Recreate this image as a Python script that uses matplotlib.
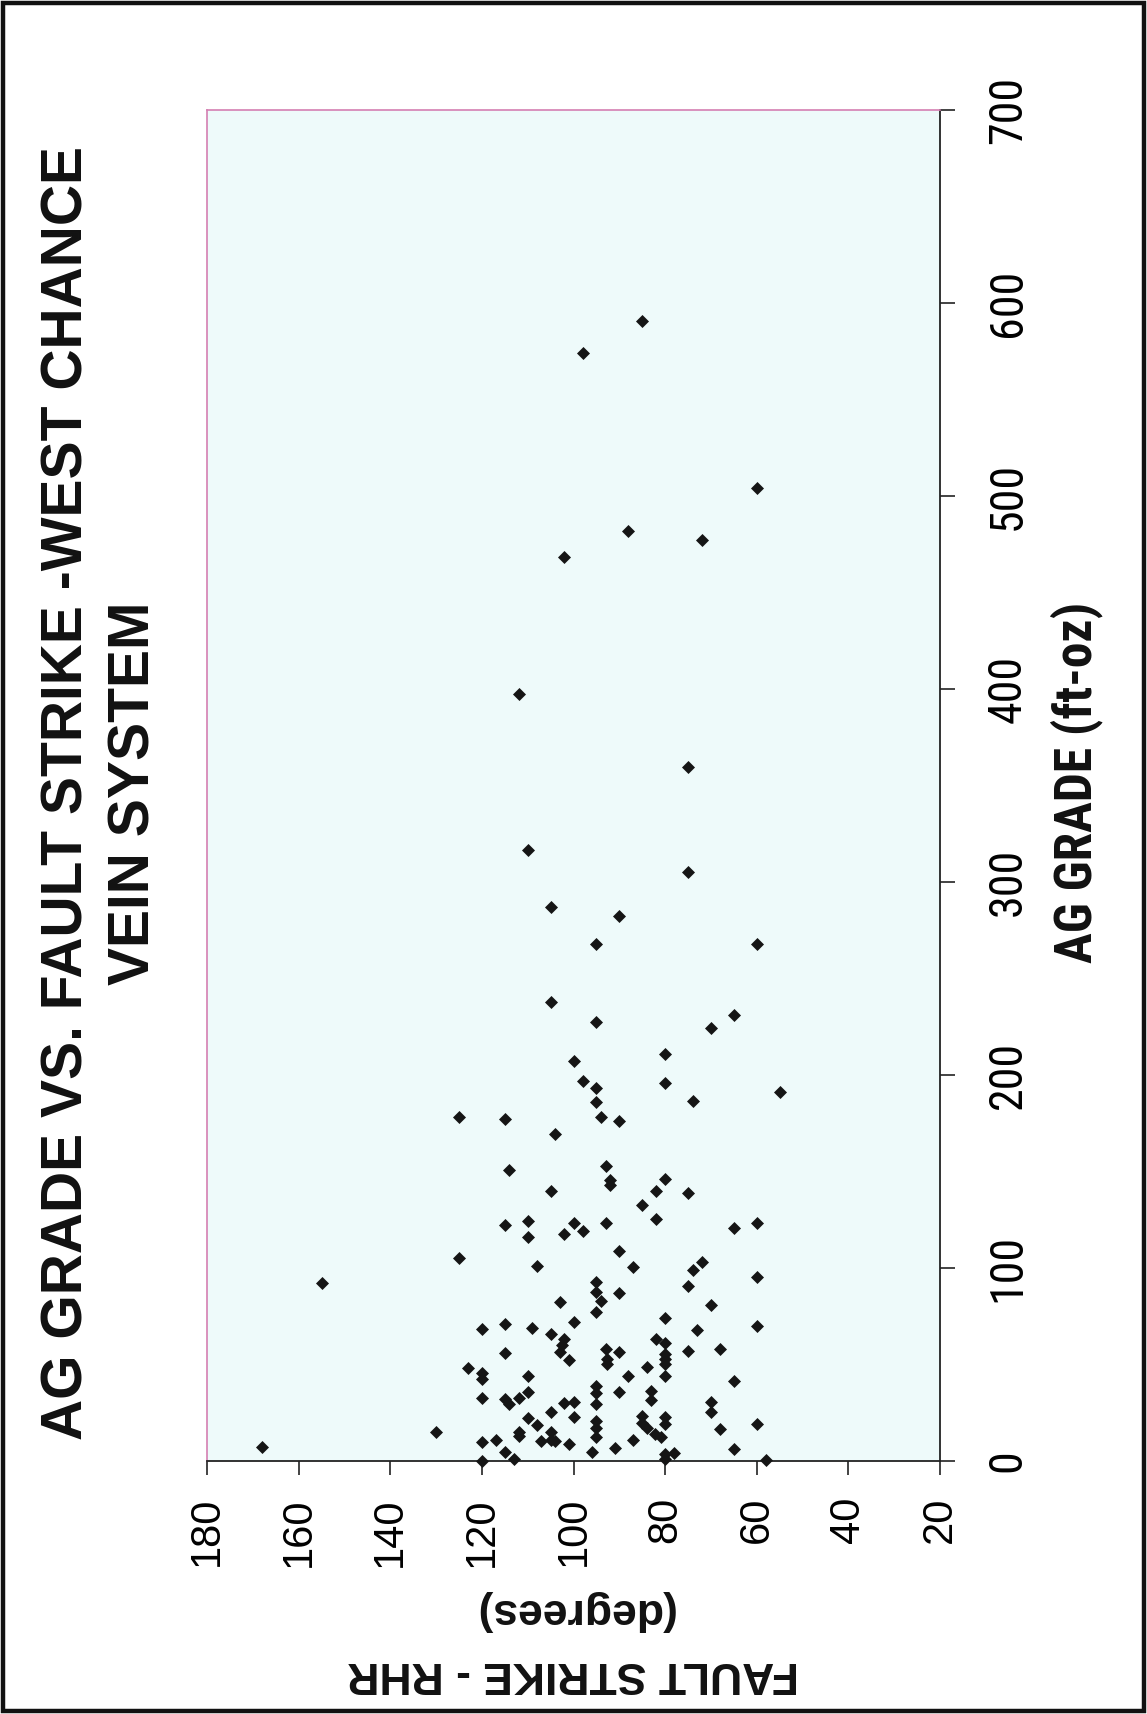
import matplotlib
matplotlib.use("Agg")
import matplotlib.pyplot as plt
from matplotlib import font_manager
from matplotlib.patches import Rectangle

# Fault strike (degrees, RHR) and silver grade (ft-oz) for each sample
strike_deg = [
    125, 155, 168, 130, 120, 115, 115, 123, 120, 120, 120, 115, 114, 112, 120, 117, 115, 113, 120, 112, 112,
    110, 102, 98, 65, 90, 108, 87, 72, 74, 60, 95, 95, 94, 90, 75, 103, 95, 70, 109, 100, 80, 105, 73, 60,
    102, 102.5, 103, 101, 93, 92.7, 92.7, 90, 82, 80, 80, 80, 80, 75, 68, 110, 88, 84, 80, 65, 110, 102, 100,
    95, 95, 90, 83, 83, 95, 70, 70, 105, 110, 100, 95, 85, 85, 80, 80, 84, 82.3, 81, 108, 105, 107, 105, 104,
    101, 95, 95, 87, 60, 68, 96, 91, 80, 80, 78, 65, 58,
    125, 115, 114, 115,
    105, 95, 65, 70, 100, 80, 98, 95, 80, 95, 55, 74, 94, 90, 104, 93, 92, 92, 80, 105, 82, 75, 85, 82, 110,
    100, 93, 60,
    85, 98, 60, 88, 72, 102, 112, 75, 110, 75, 105, 90, 95, 60,
]
ag_grade = [
    105, 92, 7, 15, 68.5, 71, 56, 48, 45.5, 42.5, 32.5, 32, 29.5, 32.5, 10, 11, 4.5, 1, 0, 15, 13,
    116, 117.5, 119, 120.5, 109, 101, 100.5, 103, 99, 95.5, 92.5, 87.5, 83, 87, 90.5, 82.5, 77, 81, 69, 72, 74, 66, 68, 70,
    63, 60, 56.5, 52.5, 58, 53, 50.5, 56.5, 63, 61, 55.5, 53, 50.5, 57, 58, 44, 44, 48.5, 44, 41.5, 36, 30, 30.5,
    39, 35, 36, 36.5, 31.5, 29.5, 30.5, 25.5, 25.5, 22.5, 23, 20.5, 23.5, 19.5, 23, 19, 17, 14, 12.5, 18.5, 15, 10.5, 11, 10.5,
    9, 17, 12.5, 11, 19, 16.5, 4.5, 6.5, 3.5, 1, 4, 6, 0.5,
    178, 177, 151, 122.5,
    238, 227.5, 231, 224.5, 207.5, 211, 197, 193.5, 196, 186, 191, 186.5, 178, 176, 169.5, 153, 145.5, 143, 146, 140, 140, 139, 132.5, 125.5, 124.5,
    123.5, 123.5, 123.5,
    590.5, 574, 504, 482, 477, 468.5, 397.5, 359.5, 316.5, 305, 287, 282.5, 268, 268,
]

title_lines = ["AG GRADE VS. FAULT STRIKE -WEST CHANCE", "VEIN SYSTEM"]
strike_label_lines = ["FAULT STRIKE - RHR", "(degrees)"]
grade_label = "AG GRADE (ft-oz)"
strike_ticks = [180, 160, 140, 120, 100, 80, 60, 40, 20]
grade_ticks = [0, 100, 200, 300, 400, 500, 600, 700]


def pick_font(candidates):
    for name in candidates:
        try:
            font_manager.findfont(font_manager.FontProperties(family=name), fallback_to_default=False)
            return name
        except Exception:
            continue
    return "DejaVu Sans"


SANS = pick_font(["Liberation Sans", "Arial", "DejaVu Sans"])
NARROW = pick_font(["Liberation Sans Narrow", "Arial Narrow", "Roboto Condensed", SANS])

W, H = 1147, 1714
fig = plt.figure(figsize=(W / 100, H / 100), dpi=100)
fig.patch.set_facecolor("white")

# plot area, in pixel units converted to figure fractions
left, right, top, bottom = 207, 940, 110, 1461
ax = fig.add_axes([left / W, (H - bottom) / H, (right - left) / W, (bottom - top) / H])
ax.set_facecolor("#eefafa")

ax.scatter(strike_deg, ag_grade, marker="D", s=44, c="#151515", linewidths=0, zorder=3, clip_on=False)

ax.set_xlim(180, 20)
ax.set_ylim(0, 700)
ax.set_xticks(strike_ticks)
ax.set_yticks(grade_ticks)
ax.yaxis.tick_right()

for side in ("top", "left"):
    ax.spines[side].set_color("#d47fb2")
    ax.spines[side].set_linewidth(1.2)
for side in ("bottom", "right"):
    ax.spines[side].set_color("#222222")
    ax.spines[side].set_linewidth(1.3)

ax.tick_params(axis="x", direction="out", length=10, width=1.2, color="#222222", pad=16)
ax.tick_params(axis="y", direction="out", length=11, width=1.2, color="#222222", pad=22)

for lab in ax.get_xticklabels():
    lab.set_rotation(90)
    lab.set_fontfamily(SANS)
    lab.set_fontsize(30)
    lab.set_ha("center")
    lab.set_va("top")
for lab in ax.get_yticklabels():
    lab.set_rotation(90)
    lab.set_fontfamily(NARROW)
    lab.set_fontsize(33)
    lab.set_ha("left")
    lab.set_va("center")

# title, rotated with the page
fig.text(68 / W, 1 - 793 / H, title_lines[0], rotation=90, ha="center", va="center",
         fontsize=41, fontweight="bold", family=SANS, color="#111111")
fig.text(135 / W, 1 - 793 / H, title_lines[1], rotation=90, ha="center", va="center",
         fontsize=41, fontweight="bold", family=SANS, color="#111111")

# grade axis title
fig.text(1077 / W, 1 - 782 / H, grade_label, rotation=90, ha="center", va="center",
         fontsize=37, fontweight="bold", family=NARROW, color="#111111")

# strike axis title (upside down)
fig.text(573.5 / W, 1 - 1673 / H, strike_label_lines[0], rotation=180, ha="center", va="center",
         fontsize=32, fontweight="bold", family=SANS, color="#111111")
fig.text(573.5 / W, 1 - 1611 / H, strike_label_lines[1], rotation=180, ha="center", va="center",
         fontsize=32, fontweight="bold", family=SANS, color="#111111")

# page border
fig.patches.append(Rectangle((3 / W, 3 / H), 1 - 6 / W, 1 - 6 / H, transform=fig.transFigure,
                             fill=False, edgecolor="#111111", linewidth=3.2))

fig.savefig("out.png", dpi=100, facecolor="white")
